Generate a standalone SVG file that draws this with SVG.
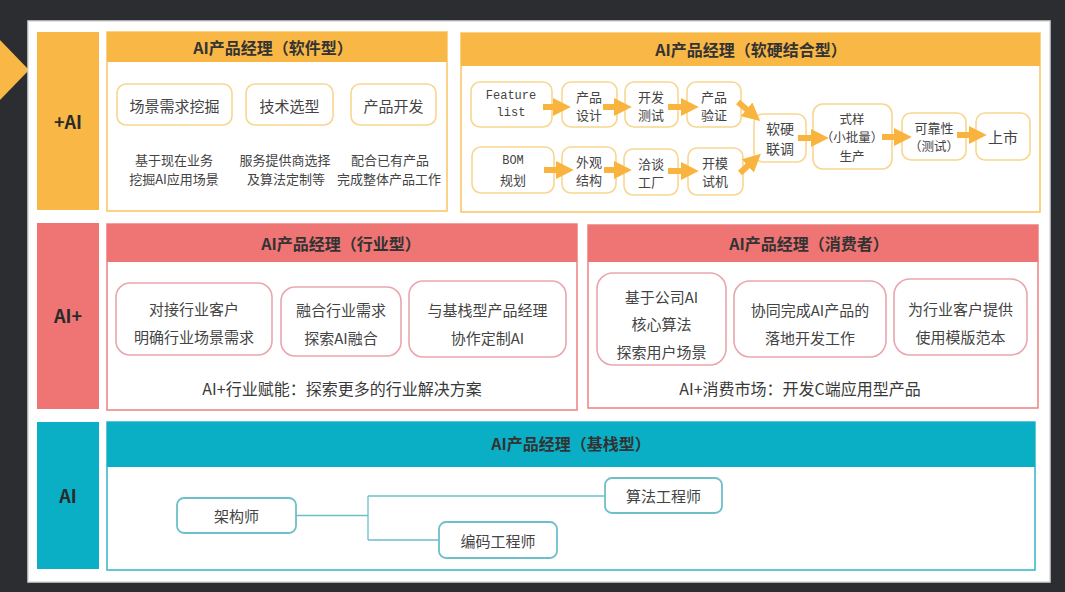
<svg xmlns="http://www.w3.org/2000/svg" width="1065" height="592" viewBox="0 0 1065 592">
<defs>
<style>
text{font-family:"Noto Sans CJK SC","Noto Sans",sans-serif;fill:#444;text-anchor:middle;dominant-baseline:central}
.t{font-size:16px;font-weight:bold;fill:#333}
.col{font-size:18px;font-weight:bold;fill:#2a2a2a}
.b15{font-size:15px}
.b13{font-size:13px}
.b14{font-size:14px}
.s{font-size:12.5px}
.mono{font-family:"Liberation Mono","DejaVu Sans Mono",monospace;font-size:12px}
.ft{font-size:16px;fill:#3a3a3a}
.oh{fill:#f9b845}
.rh{fill:#ef7474}
.th{fill:#0aafc6}
.ob{fill:#fff;stroke:#f9c55f;stroke-width:1.5}
.rb{fill:#fff;stroke:#ef8080;stroke-width:1.5}
.tb{fill:#fff;stroke:#2fb4c6;stroke-width:1.5}
.on{fill:#fff;stroke:#f8d690;stroke-width:1.6}
.rn{fill:#fff;stroke:#e9a6ae;stroke-width:1.6}
.tn{fill:#fff;stroke:#6dbfca;stroke-width:1.8}
.arr{stroke:#f9b43f;stroke-width:6;fill:none;marker-end:url(#ah)}
.ln{stroke:#6cc0cb;stroke-width:1.3;fill:none}
</style>
<marker id="ah" markerWidth="3" markerHeight="3" refX="1.2" refY="1.5" orient="auto" markerUnits="strokeWidth">
<path d="M0,0 L3,1.5 L0,3 z" fill="#f9b43f"/>
</marker>
</defs>
<rect width="1065" height="592" fill="#2b2d31"/>
<polygon points="0,40 29,70 0,100" fill="#f9b845"/>
<rect x="28" y="21" width="1022" height="561" fill="#fff" stroke="#d8d8d8" stroke-width="1.5"/>

<g id="col-plus-ai"><rect x="37" y="32" width="62" height="178" class="oh"/><text x="68" y="121" class="col">+AI</text></g>
<g id="col-ai-plus"><rect x="37" y="223" width="62" height="186" class="rh"/><text x="68" y="315" class="col">AI+</text></g>
<g id="col-ai"><rect x="37" y="422" width="62" height="147" class="th"/><text x="68" y="495" class="col">AI</text></g>

<g id="software">
<rect x="107" y="32" width="340" height="179" class="ob"/>
<rect x="107" y="32" width="340" height="30" class="oh"/>
<text x="273" y="47" class="t">AI产品经理（软件型）</text>
<rect x="117" y="84" width="115" height="41" rx="9" class="on"/><text x="174.5" y="105" class="b15">场景需求挖掘</text>
<rect x="246" y="84" width="87" height="41" rx="9" class="on"/><text x="289.5" y="105" class="b15">技术选型</text>
<rect x="351" y="84" width="85" height="41" rx="9" class="on"/><text x="393.5" y="105" class="b15">产品开发</text>
<text x="174" y="159" class="b13">基于现在业务</text><text x="174" y="178" class="b13">挖掘AI应用场景</text>
<text x="285" y="159" class="b13">服务提供商选择</text><text x="286" y="178" class="b13">及算法定制等</text>
<text x="390" y="159" class="b13">配合已有产品</text><text x="389" y="178" class="b13">完成整体产品工作</text>
</g>

<g id="softhard">
<rect x="461" y="33" width="579" height="179" class="ob"/>
<rect x="461" y="33" width="579" height="33" class="oh"/>
<text x="751" y="49" class="t">AI产品经理（软硬结合型）</text>
</g>
<g id="n-feature"><rect x="471" y="82" width="81" height="45" rx="9" class="on"/><text x="511" y="96" class="mono">Feature</text><text x="511" y="113" class="mono">list</text></g>
<g id="n-design"><rect x="562" y="82" width="55" height="45" rx="9" class="on"/><text x="589" y="96" class="b13">产品</text><text x="589" y="114" class="b13">设计</text></g>
<g id="n-devtest"><rect x="625" y="82" width="53" height="45" rx="9" class="on"/><text x="651" y="96" class="b13">开发</text><text x="651" y="114" class="b13">测试</text></g>
<g id="n-verify"><rect x="687" y="82" width="54" height="45" rx="9" class="on"/><text x="714" y="96" class="b13">产品</text><text x="714" y="114" class="b13">验证</text></g>
<g id="n-bom"><rect x="472" y="147" width="82" height="46" rx="9" class="on"/><text x="513" y="161" class="mono">BOM</text><text x="513" y="179" class="b13">规划</text></g>
<g id="n-look"><rect x="562" y="147" width="54" height="46" rx="9" class="on"/><text x="589" y="161" class="b13">外观</text><text x="589" y="179" class="b13">结构</text></g>
<g id="n-factory"><rect x="624" y="149" width="54" height="46" rx="9" class="on"/><text x="651" y="163" class="b13">洽谈</text><text x="651" y="181" class="b13">工厂</text></g>
<g id="n-mold"><rect x="688" y="148" width="55" height="47" rx="9" class="on"/><text x="715" y="162" class="b13">开模</text><text x="715" y="180" class="b13">试机</text></g>
<g id="n-joint"><rect x="754" y="114" width="52" height="48" rx="9" class="on"/><text x="780" y="128" class="b14">软硬</text><text x="780" y="148" class="b14">联调</text></g>
<g id="n-sample"><rect x="813" y="104" width="79" height="65" rx="10" class="on"/><text x="852" y="118" class="s">式样</text><text x="852" y="136.5" class="s">（小批量）</text><text x="852" y="155" class="s">生产</text></g>
<g id="n-reliab"><rect x="902" y="113" width="64" height="47" rx="9" class="on"/><text x="934" y="127" class="b13">可靠性</text><text x="934" y="145" class="s">（测试）</text></g>
<g id="n-market"><rect x="976" y="113" width="54" height="47" rx="9" class="on"/><text x="1003" y="136" class="b15">上市</text></g>

<g id="industry">
<rect x="107" y="224" width="470" height="186" class="rb"/>
<rect x="107" y="224" width="470" height="38" class="rh"/>
<text x="341" y="243" class="t">AI产品经理（行业型）</text>
<rect x="116" y="283" width="156" height="72" rx="14" class="rn"/><text x="194" y="308" class="b15">对接行业客户</text><text x="194" y="336" class="b15">明确行业场景需求</text>
<rect x="281" y="287" width="120" height="69" rx="14" class="rn"/><text x="341" y="309" class="b15">融合行业需求</text><text x="341" y="337" class="b15">探索AI融合</text>
<rect x="409" y="281" width="157" height="76" rx="14" class="rn"/><text x="487.5" y="309" class="b15">与基栈型产品经理</text><text x="487.5" y="337" class="b15">协作定制AI</text>
<text x="342" y="388" class="ft">AI+行业赋能：探索更多的行业解决方案</text>
</g>

<g id="consumer">
<rect x="588" y="225" width="450" height="183" class="rb"/>
<rect x="588" y="225" width="450" height="37" class="rh"/>
<text x="809" y="243" class="t">AI产品经理（消费者）</text>
<rect x="597" y="273" width="129" height="92" rx="16" class="rn"/><text x="661.5" y="296" class="b15">基于公司AI</text><text x="661.5" y="323" class="b15">核心算法</text><text x="661.5" y="351" class="b15">探索用户场景</text>
<rect x="734" y="281" width="152" height="76" rx="16" class="rn"/><text x="810" y="309" class="b15">协同完成AI产品的</text><text x="810" y="337" class="b15">落地开发工作</text>
<rect x="894" y="279" width="133" height="76" rx="16" class="rn"/><text x="960.5" y="308" class="b15">为行业客户提供</text><text x="960.5" y="336" class="b15">使用模版范本</text>
<text x="800" y="388" class="ft">AI+消费市场：开发C端应用型产品</text>
</g>

<g id="base">
<rect x="107" y="422" width="928" height="148" class="tb"/>
<rect x="107" y="422" width="928" height="45" class="th"/>
<text x="571" y="443" class="t">AI产品经理（基栈型）</text>
</g>
<g id="n-arch"><rect x="177" y="498" width="119" height="35" rx="7" class="tn"/><text x="236.5" y="515.5" class="b15">架构师</text></g>
<g id="n-algo"><rect x="605" y="478" width="117" height="35" rx="7" class="tn"/><text x="663.5" y="495.5" class="b15">算法工程师</text></g>
<g id="n-code"><rect x="439" y="522" width="118" height="36" rx="7" class="tn"/><text x="498" y="540" class="b15">编码工程师</text></g>

<g id="connectors">
<line x1="543" y1="107" x2="560" y2="107" class="arr"/>
<line x1="603" y1="107" x2="621" y2="107" class="arr"/>
<line x1="668" y1="107" x2="688" y2="107" class="arr"/>
<line x1="544" y1="170" x2="563" y2="170" class="arr"/>
<line x1="604" y1="170" x2="621" y2="170" class="arr"/>
<line x1="668" y1="171" x2="688" y2="171" class="arr"/>
<line x1="738" y1="102" x2="752" y2="114" class="arr"/>
<line x1="740" y1="173" x2="753" y2="161" class="arr"/>
<line x1="798" y1="138" x2="818" y2="138" class="arr"/>
<line x1="882" y1="137" x2="901" y2="137" class="arr"/>
<line x1="957" y1="135" x2="976" y2="135" class="arr"/>
<path d="M296,515.5 H368 M368,496 V540 M368,496 H605 M368,540 H439" class="ln"/>
</g>
</svg>
